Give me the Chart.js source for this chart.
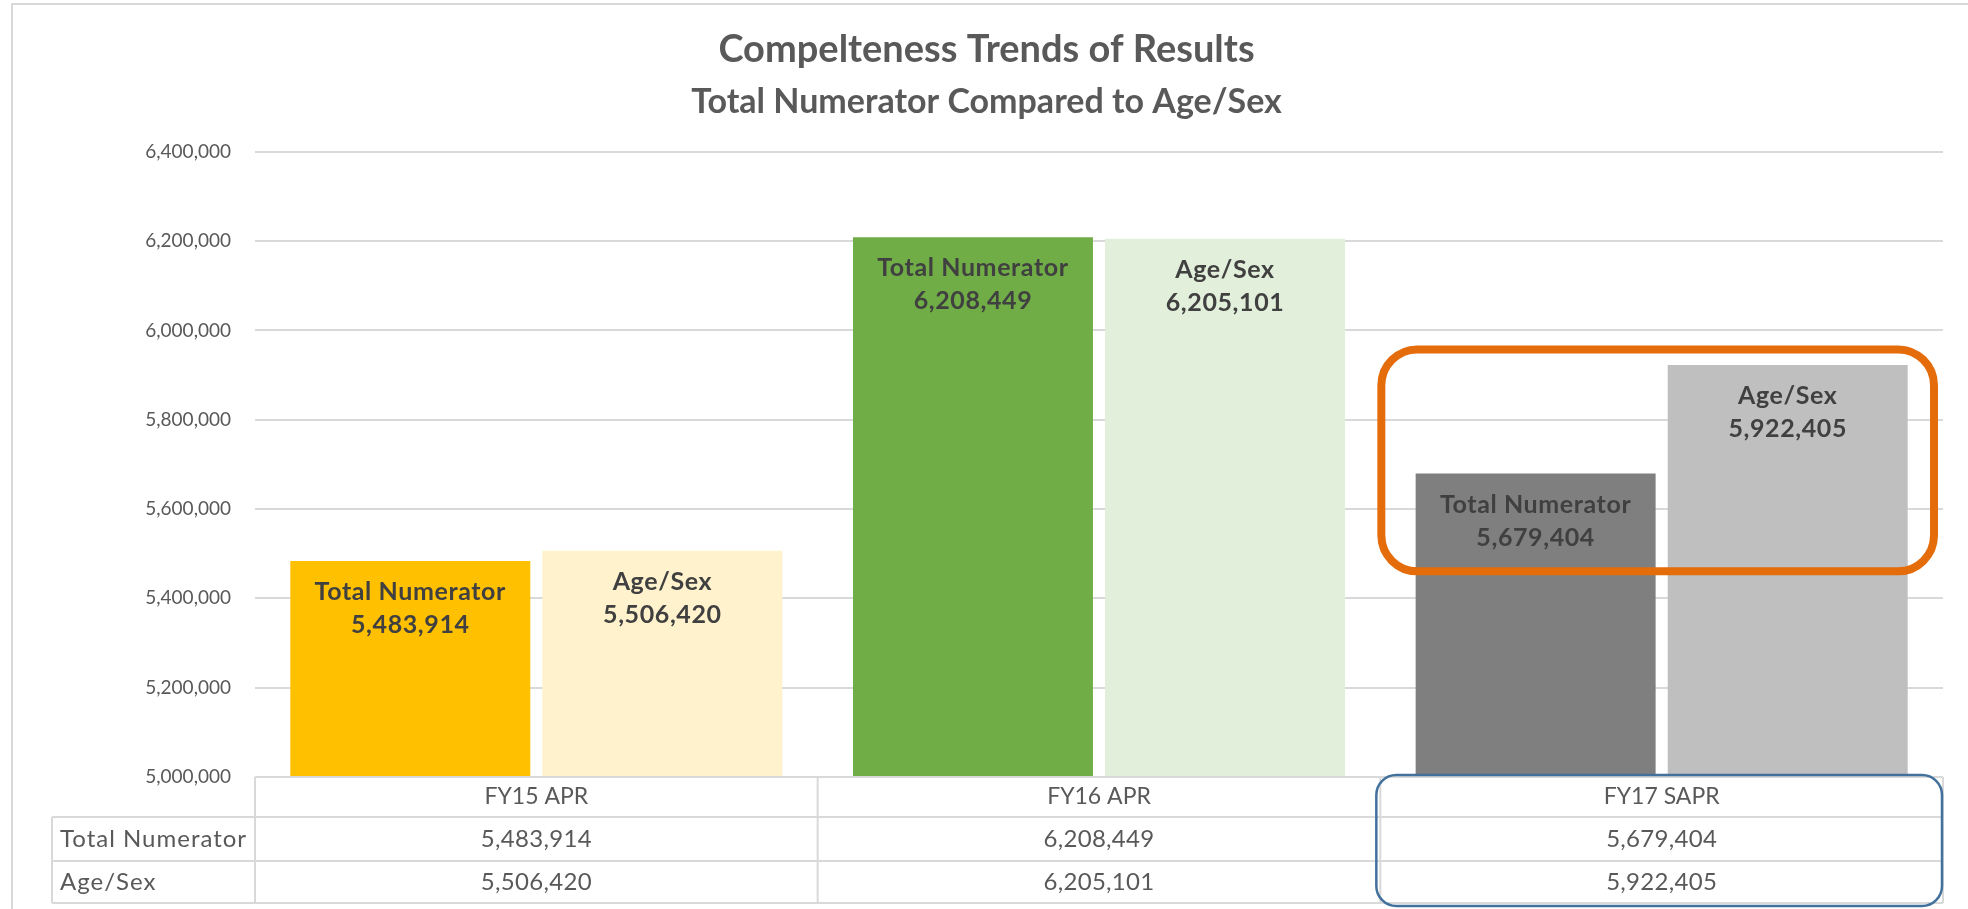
<!DOCTYPE html>
<html>
<head>
<meta charset="utf-8">
<title>Compelteness Trends of Results</title>
<script src="https://cdn.jsdelivr.net/npm/chart.js@4.4.1/dist/chart.umd.min.js"></script>
<style>
  html, body { margin: 0; padding: 0; background: #fff; }
  #wrap { position: relative; width: 1968px; height: 909px; }
</style>
</head>
<body>
<div id="wrap"><canvas id="completenessChart"></canvas></div>
<script>
// Values
const categories = ['FY15 APR', 'FY16 APR', 'FY17 SAPR'];
const seriesNames = ['Total Numerator', 'Age/Sex'];
const totalNumerator = [5483914, 6208449, 5679404];
const ageSex = [5506420, 6205101, 5922405];
const yMin = 5000000, yMax = 6400000, yStep = 200000;

// Highlighted category (orange box over its bars, blue box round its table column)
const highlightCategory = 2;
const highlightRange = [5460500, 5957500];

const totalColors = ['#FFC000', '#70AD47', '#7F7F7F'];
const ageSexColors = ['#FFF2CC', '#E2EFDA', '#BFBFBF'];

const FONT = 'Lato, "Open Sans", sans-serif';
const GRID = '#D9D9D9';
const TEXT = '#595959';
const fmt = v => v.toLocaleString('en-US');

function roundRect(ctx, x, y, w, h, r) {
    ctx.beginPath();
    ctx.moveTo(x + r, y);
    ctx.arcTo(x + w, y, x + w, y + h, r);
    ctx.arcTo(x + w, y + h, x, y + h, r);
    ctx.arcTo(x, y + h, x, y, r);
    ctx.arcTo(x, y, x + w, y, r);
    ctx.closePath();
}

// White background and the light frame round the whole chart
const framePlugin = {
    id: 'frame',
    beforeDraw(chart) {
        const ctx = chart.ctx;
        ctx.save();
        ctx.fillStyle = '#fff';
        ctx.fillRect(0, 0, chart.width, chart.height);
        ctx.strokeStyle = GRID;
        ctx.lineWidth = 2;
        ctx.strokeRect(12, 4, chart.width, chart.height);
        ctx.restore();
    }
};

// Series name and value inside the top of each bar
const barLabelPlugin = {
    id: 'barLabels',
    afterDatasetsDraw(chart) {
        const ctx = chart.ctx;
        ctx.save();
        ctx.font = 'bold 25px ' + FONT;
        ctx.letterSpacing = '0.6px';
        ctx.fillStyle = '#404040';
        ctx.textAlign = 'center';
        ctx.textBaseline = 'middle';
        chart.data.datasets.forEach((ds, i) => {
            chart.getDatasetMeta(i).data.forEach((bar, j) => {
                ctx.fillText(ds.label, bar.x, bar.y + 31);
                ctx.fillText(fmt(ds.data[j]), bar.x, bar.y + 64);
            });
        });
        ctx.restore();
    }
};

// Data table under the plot, in place of the x axis labels
const dataTablePlugin = {
    id: 'dataTable',
    afterDraw(chart) {
        const ctx = chart.ctx;
        const xs = chart.scales.x;
        const ys = chart.scales.y;
        const area = chart.chartArea;
        const half = (xs.getPixelForTick(1) - xs.getPixelForTick(0)) / 2;
        const tableLeft = 52;
        const rows = [area.bottom, area.bottom + 40, area.bottom + 84, area.bottom + 126];
        const bottom = rows[3];

        ctx.save();
        ctx.strokeStyle = GRID;
        ctx.lineWidth = 2;
        ctx.beginPath();
        ctx.moveTo(area.left, rows[0]); ctx.lineTo(area.right, rows[0]);
        for (let r = 1; r < 4; r++) {
            ctx.moveTo(tableLeft, rows[r]); ctx.lineTo(area.right, rows[r]);
        }
        ctx.moveTo(tableLeft, rows[1]); ctx.lineTo(tableLeft, bottom);
        categories.forEach((c, i) => {
            const cx = xs.getPixelForTick(i);
            ctx.moveTo(cx - half, rows[0]); ctx.lineTo(cx - half, bottom);
        });
        ctx.moveTo(area.right, rows[0]); ctx.lineTo(area.right, bottom);
        ctx.stroke();

        ctx.fillStyle = TEXT;
        ctx.textBaseline = 'middle';
        ctx.textAlign = 'left';
        ctx.font = '24px ' + FONT;
        ctx.letterSpacing = '1px';
        seriesNames.forEach((name, r) => {
            ctx.fillText(name, 60, (rows[r + 1] + rows[r + 2]) / 2);
        });
        ctx.textAlign = 'center';
        const series = [totalNumerator, ageSex];
        categories.forEach((c, i) => {
            const cx = xs.getPixelForTick(i);
            ctx.font = '23px ' + FONT;
            ctx.letterSpacing = '0px';
            ctx.fillText(c, cx, (rows[0] + rows[1]) / 2);
            ctx.font = '24px ' + FONT;
            ctx.letterSpacing = '0.3px';
            series.forEach((vals, r) => {
                ctx.fillText(fmt(vals[i]), cx, (rows[r + 1] + rows[r + 2]) / 2);
            });
        });

        // highlight boxes
        const hx = xs.getPixelForTick(highlightCategory);
        ctx.strokeStyle = '#E46C0A';
        ctx.lineWidth = 8;
        const top = ys.getPixelForValue(highlightRange[1]);
        const bot = ys.getPixelForValue(highlightRange[0]);
        roundRect(ctx, hx - half + 1, top, 2 * half - 10, bot - top, 36);
        ctx.stroke();

        ctx.strokeStyle = '#41719C';
        ctx.lineWidth = 2.5;
        roundRect(ctx, hx - half - 4, area.bottom - 2, 2 * half + 3, chart.height - area.bottom - 1, 20);
        ctx.stroke();
        ctx.restore();
    }
};

const ctx = document.getElementById('completenessChart').getContext('2d');
new Chart(ctx, {
    type: 'bar',
    data: {
        labels: categories,
        datasets: [{
            label: seriesNames[0],
            data: totalNumerator,
            backgroundColor: totalColors,
            categoryPercentage: 0.896,
            barPercentage: 0.952
        }, {
            label: seriesNames[1],
            data: ageSex,
            backgroundColor: ageSexColors,
            categoryPercentage: 0.896,
            barPercentage: 0.952
        }]
    },
    options: {
        responsive: true,
        maintainAspectRatio: false,
        animation: false,
        layout: { padding: { left: 30, right: 25, top: 0, bottom: 0 } },
        plugins: {
            legend: { display: false },
            tooltip: { enabled: false },
            title: {
                display: true,
                text: 'Compelteness Trends of Results',
                color: TEXT,
                font: { family: FONT, size: 38, weight: 'bold', lineHeight: 1.2 },
                padding: { top: 27.2, bottom: 8.6 }
            },
            subtitle: {
                display: true,
                text: 'Total Numerator Compared to Age/Sex',
                color: TEXT,
                font: { family: FONT, size: 34, weight: 'bold', lineHeight: 1.2 },
                padding: { top: 0, bottom: 29.6 }
            }
        },
        scales: {
            x: {
                ticks: { display: false },
                grid: { display: false },
                border: { display: false },
                afterFit(scale) { scale.height = 132; }
            },
            y: {
                min: yMin,
                max: yMax,
                ticks: {
                    stepSize: yStep,
                    padding: 24,
                    color: TEXT,
                    font: { family: FONT, size: 19 },
                    callback: v => fmt(v)
                },
                grid: { color: GRID, lineWidth: 2, drawTicks: false },
                border: { display: false },
                afterFit(scale) { scale.width = 225; }
            }
        }
    },
    plugins: [framePlugin, barLabelPlugin, dataTablePlugin]
});
</script>
</body>
</html>
